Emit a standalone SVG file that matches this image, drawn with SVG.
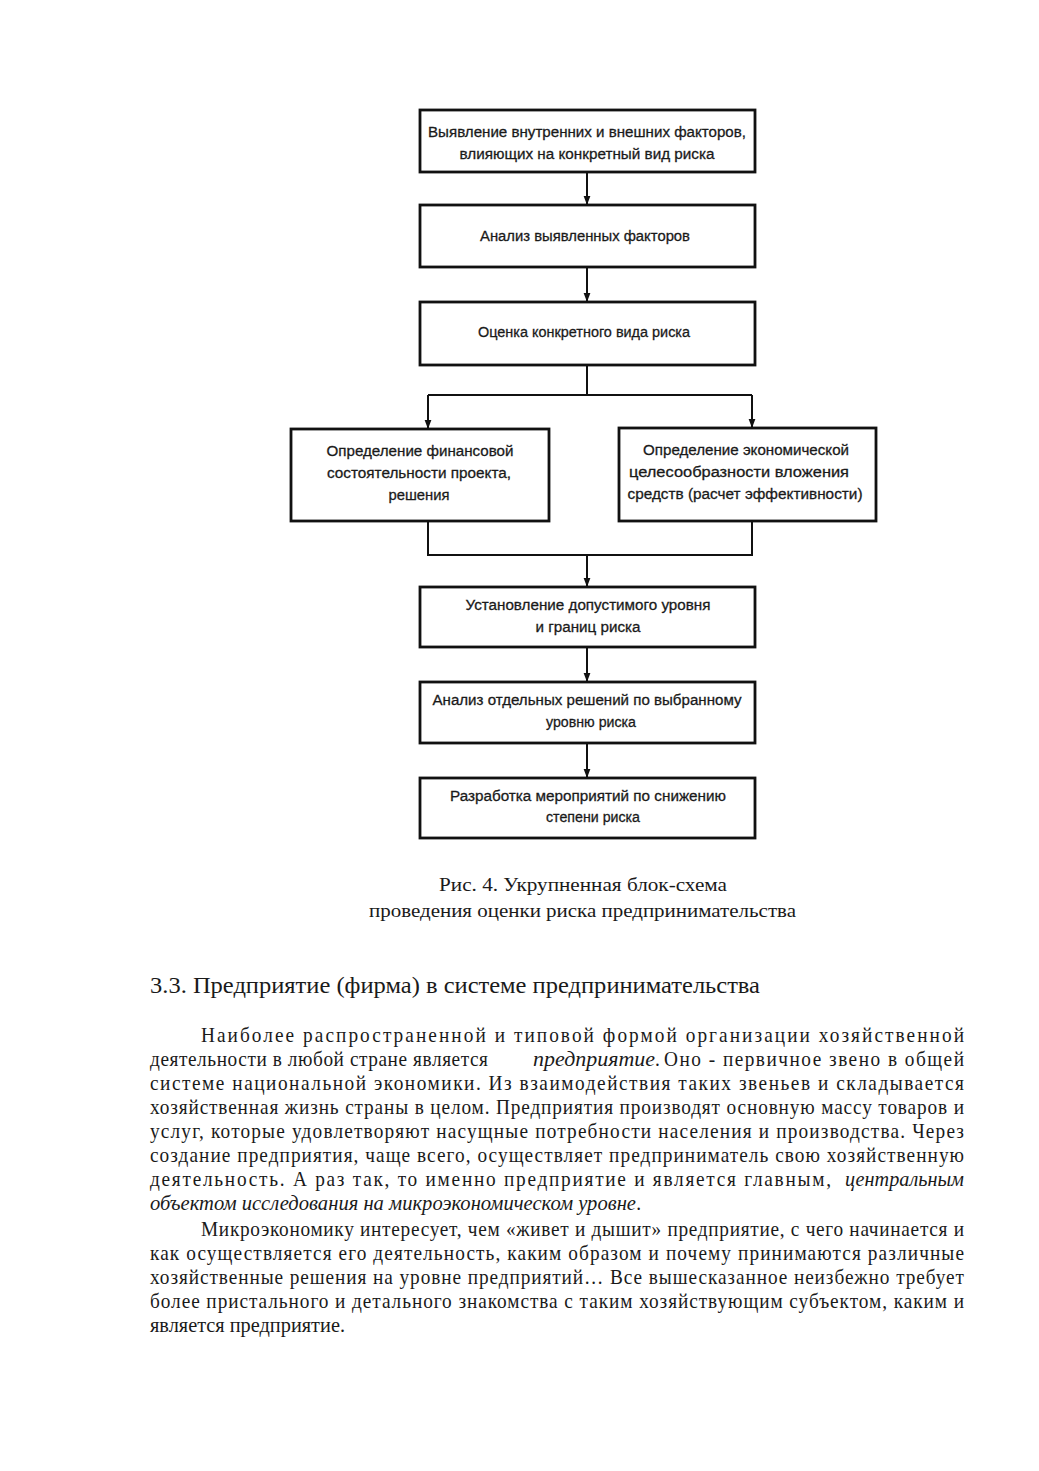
<svg xmlns="http://www.w3.org/2000/svg" width="1039" height="1471" viewBox="0 0 1039 1471">
<style>
.box{fill:#fff;stroke:#111;stroke-width:2.8}
.bt{font-family:"Liberation Sans",Arial,sans-serif;font-size:15.5px;fill:#1a1a1a;stroke:#1a1a1a;stroke-width:0.3;text-anchor:middle}
.cn{fill:none;stroke:#111;stroke-width:2}
.cap{font-family:"Liberation Serif","Times New Roman",serif;font-size:19px;fill:#1a1a1a}
.h{font-family:"Liberation Serif","Times New Roman",serif;font-size:24px;fill:#1a1a1a}
.b{font-family:"Liberation Serif","Times New Roman",serif;font-size:21px;fill:#1a1a1a}
.i{font-style:italic}
</style>
<defs>
<marker id="ad" markerUnits="userSpaceOnUse" markerWidth="9" markerHeight="12" refX="12" refY="4.5" orient="auto" viewBox="0 0 12 9">
<path d="M0,0 L12,4.5 L0,9 z" fill="#111"/>
</marker>
</defs>
<rect width="1039" height="1471" fill="#fff"/>

<g id="connectors">
<path class="cn" d="M587,172 V205" marker-end="url(#ad)"/>
<path class="cn" d="M587,267 V302" marker-end="url(#ad)"/>
<path class="cn" d="M587,365 V395 M428,395 H752"/>
<path class="cn" d="M428,395 V429" marker-end="url(#ad)"/>
<path class="cn" d="M752,395 V428" marker-end="url(#ad)"/>
<path class="cn" d="M428,521 V555 H752 V521"/>
<path class="cn" d="M587,555 V587" marker-end="url(#ad)"/>
<path class="cn" d="M587,647 V682" marker-end="url(#ad)"/>
<path class="cn" d="M587,743 V778" marker-end="url(#ad)"/>
</g>

<g id="n1"><rect class="box" x="420" y="110" width="335" height="62"/>
<text class="bt" x="587" y="137" textLength="318" lengthAdjust="spacingAndGlyphs">Выявление внутренних и внешних факторов,</text>
<text class="bt" x="587" y="159" textLength="255" lengthAdjust="spacingAndGlyphs">влияющих на конкретный вид риска</text></g>

<g id="n2"><rect class="box" x="420" y="205" width="335" height="62"/>
<text class="bt" x="585" y="241" textLength="210" lengthAdjust="spacingAndGlyphs">Анализ выявленных факторов</text></g>

<g id="n3"><rect class="box" x="420" y="302" width="335" height="63"/>
<text class="bt" x="584" y="337" textLength="212" lengthAdjust="spacingAndGlyphs">Оценка конкретного вида риска</text></g>

<g id="n4"><rect class="box" x="291" y="429" width="258" height="92"/>
<text class="bt" x="420" y="456" textLength="187" lengthAdjust="spacingAndGlyphs">Определение финансовой</text>
<text class="bt" x="419" y="478" textLength="184" lengthAdjust="spacingAndGlyphs">состоятельности проекта,</text>
<text class="bt" x="419" y="500" textLength="61" lengthAdjust="spacingAndGlyphs">решения</text></g>

<g id="n5"><rect class="box" x="619" y="428" width="257" height="93"/>
<text class="bt" x="746" y="455" textLength="206" lengthAdjust="spacingAndGlyphs">Определение экономической</text>
<text class="bt" x="739" y="477" textLength="220" lengthAdjust="spacingAndGlyphs">целесообразности вложения</text>
<text class="bt" x="745" y="499" textLength="235" lengthAdjust="spacingAndGlyphs">средств (расчет эффективности)</text></g>

<g id="n6"><rect class="box" x="420" y="587" width="335" height="60"/>
<text class="bt" x="588" y="610" textLength="245" lengthAdjust="spacingAndGlyphs">Установление допустимого уровня</text>
<text class="bt" x="588" y="632" textLength="105" lengthAdjust="spacingAndGlyphs">и границ риска</text></g>

<g id="n7"><rect class="box" x="420" y="682" width="335" height="61"/>
<text class="bt" x="587" y="705" textLength="309" lengthAdjust="spacingAndGlyphs">Анализ отдельных решений по выбранному</text>
<text class="bt" x="591" y="727" textLength="90" lengthAdjust="spacingAndGlyphs">уровню риска</text></g>

<g id="n8"><rect class="box" x="420" y="778" width="335" height="60"/>
<text class="bt" x="588" y="801" textLength="276" lengthAdjust="spacingAndGlyphs">Разработка мероприятий по снижению</text>
<text class="bt" x="593" y="822" textLength="94" lengthAdjust="spacingAndGlyphs">степени риска</text></g>

<g id="caption">
<text class="cap" x="439" y="891" textLength="288" lengthAdjust="spacingAndGlyphs">Рис. 4. Укрупненная блок-схема</text>
<text class="cap" x="369" y="917" textLength="427" lengthAdjust="spacingAndGlyphs">проведения оценки риска предпринимательства</text>
</g>

<g id="heading">
<text class="h" x="150" y="993" textLength="610" lengthAdjust="spacingAndGlyphs">3.3. Предприятие (фирма) в системе предпринимательства</text>
</g>

<g id="body" transform="scale(0.92,1)">
<text class="b" x="218.48" y="1042" textLength="829.35" lengthAdjust="spacing">Наиболее распространенной и типовой формой организации хозяйственной</text>
<text class="b" x="163.04" y="1066" textLength="367.39" lengthAdjust="spacing">деятельности в любой стране является</text>
<text class="b i" x="579.35" y="1066" textLength="132.61" lengthAdjust="spacingAndGlyphs">предприятие</text>
<text class="b" x="712" y="1066">.</text>
<text class="b" x="721.74" y="1066" textLength="326.09" lengthAdjust="spacing">Оно - первичное звено в общей</text>
<text class="b" x="163.04" y="1090" textLength="884.78" lengthAdjust="spacing">системе национальной экономики. Из взаимодействия таких звеньев и складывается</text>
<text class="b" x="163.04" y="1114" textLength="884.78" lengthAdjust="spacing">хозяйственная жизнь страны в целом.  Предприятия производят основную массу товаров и</text>
<text class="b" x="163.04" y="1138" textLength="884.78" lengthAdjust="spacing">услуг, которые удовлетворяют насущные потребности населения и производства. Через</text>
<text class="b" x="163.04" y="1162" textLength="884.78" lengthAdjust="spacing">создание предприятия, чаще всего, осуществляет предприниматель свою хозяйственную</text>
<text class="b" x="163.04" y="1186" textLength="740.22" lengthAdjust="spacing">деятельность. А раз так, то именно предприятие и является главным,</text>
<text class="b i" x="918.48" y="1186" textLength="129.35" lengthAdjust="spacingAndGlyphs">центральным</text>
<text class="b i" x="163.04" y="1210" textLength="528.26" lengthAdjust="spacingAndGlyphs">объектом исследования на микроэкономическом уровне</text>
<text class="b" x="691.5" y="1210">.</text>
<text class="b" x="218.48" y="1236" textLength="829.35" lengthAdjust="spacing">Микроэкономику интересует, чем «живет и дышит» предприятие, с чего начинается и</text>
<text class="b" x="163.04" y="1260" textLength="884.78" lengthAdjust="spacing">как осуществляется его деятельность, каким образом и почему принимаются различные</text>
<text class="b" x="163.04" y="1284" textLength="884.78" lengthAdjust="spacing">хозяйственные решения на уровне предприятий… Все вышесказанное неизбежно требует</text>
<text class="b" x="163.04" y="1308" textLength="884.78" lengthAdjust="spacing">более пристального и детального знакомства с таким хозяйствующим субъектом, каким и</text>
<text class="b" x="163.04" y="1332" textLength="211.96" lengthAdjust="spacingAndGlyphs">является предприятие.</text>
</g>
</svg>
